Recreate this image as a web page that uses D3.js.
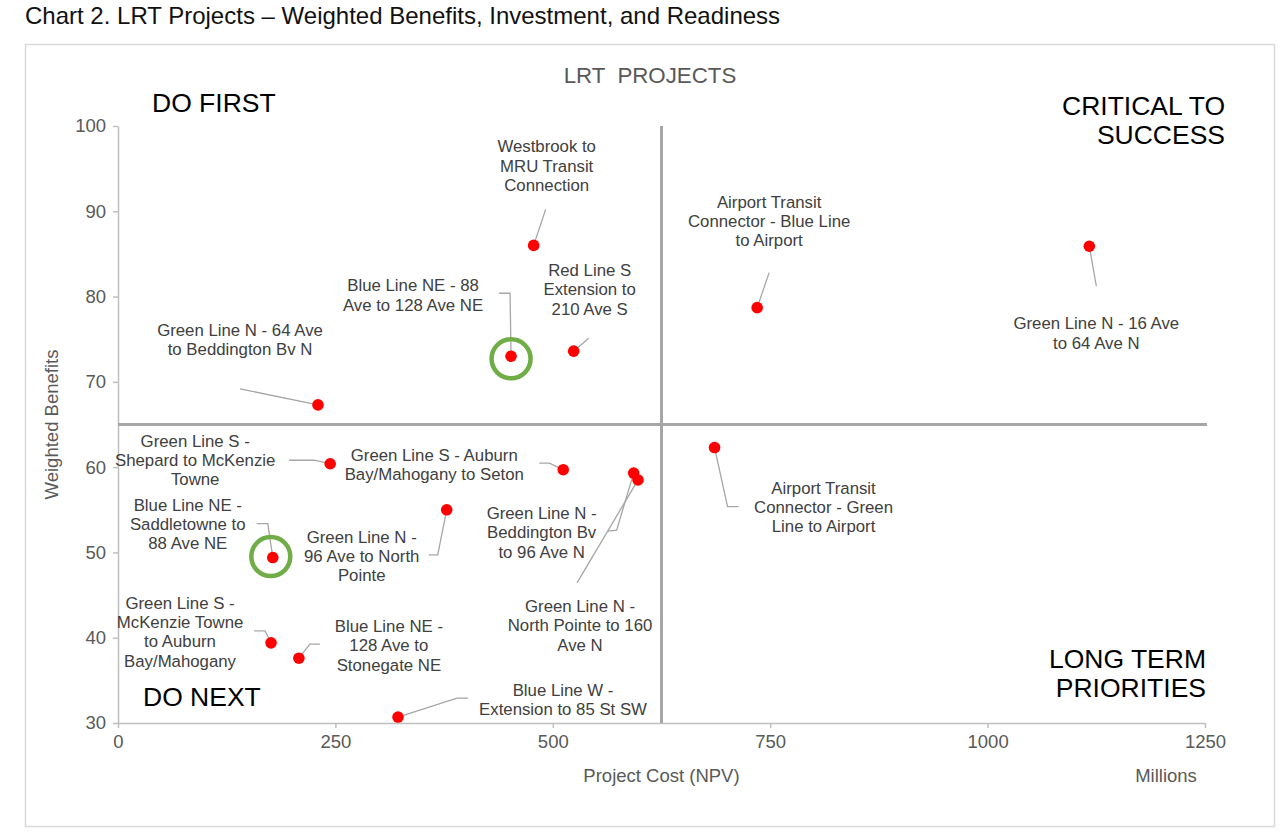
<!DOCTYPE html>
<html>
<head>
<meta charset="utf-8">
<script src="https://cdn.jsdelivr.net/npm/d3@7"></script>
<style>
  body { margin: 0; background: #fff; }
  svg { display: block; font-family: "Liberation Sans", Arial, sans-serif; }
</style>
</head>
<body>
<svg id="chart" width="1280" height="837"></svg>
<script>
// project names (label lines)
var projects = [
  ["Westbrook to", "MRU Transit", "Connection"],
  ["Blue Line NE - 88", "Ave to 128 Ave NE"],
  ["Red Line S", "Extension to", "210 Ave S"],
  ["Green Line N - 64 Ave", "to Beddington Bv N"],
  ["Airport Transit", "Connector - Blue Line", "to Airport"],
  ["Green Line N - 16 Ave", "to 64 Ave N"],
  ["Airport Transit", "Connector - Green", "Line to Airport"],
  ["Green Line S -", "Shepard to McKenzie", "Towne"],
  ["Green Line S - Auburn", "Bay/Mahogany to Seton"],
  ["Green Line N -", "Beddington Bv", "to 96 Ave N"],
  ["Green Line N -", "North Pointe to 160", "Ave N"],
  ["Green Line N -", "96 Ave to North", "Pointe"],
  ["Blue Line NE -", "Saddletowne to", "88 Ave NE"],
  ["Green Line S -", "McKenzie Towne", "to Auburn", "Bay/Mahogany"],
  ["Blue Line NE -", "128 Ave to", "Stonegate NE"],
  ["Blue Line W -", "Extension to 85 St SW"]
];
// project cost (NPV, millions)
var cost = [478, 452, 524, 230, 735, 1117, 686, 244, 512, 593, 598, 378, 178, 176, 208, 322];
// weighted benefits score
var benefit = [86, 73, 73.6, 67.3, 78.7, 85.9, 62.3, 60.4, 59.7, 59.3, 58.5, 55, 49.4, 39.4, 37.6, 30.7];
// ringed projects
var ringed = [false, true, false, false, false, false, false, false, false, false, false, false, true, false, false, false];

var xTicks = [0, 250, 500, 750, 1000, 1250];
var yTicks = [30, 40, 50, 60, 70, 80, 90, 100];
var costSplit = 625, benefitSplit = 65;

// label layout, pixel offsets from each dot: [label dx, label dy], leader points
var labelOffset = [
  [13, -99], [-98, -71], [16, -81], [-78, -75], [12, -106], [7, 77], [109, 40], [-135, -23],
  [-129, -15], [-92, 40], [-58, 126], [-85, 27], [-85, -53], [-91, -40], [90, -32], [165, -27]
];
var leaders = [
  [[12, -36], [0, 0]],
  [[-12, -63], [-1, -63], [0, 0]],
  [[15, -13], [0, 0]],
  [[-78, -16], [0, 0]],
  [[12, -35], [0, 0]],
  [[7, 40], [0, 0]],
  [[24, 59], [13, 59], [0, 0]],
  [[-41, -3.5], [-16, -3.5], [0, 0]],
  [[-24, -6.5], [-14, -6.5], [0, 0]],
  [[-26, 58], [-17, 57], [0, 0]],
  [[-61, 103], [0, 0]],
  [[-18, 45], [-9, 45], [0, 0]],
  [[-16, -34], [-5, -34], [0, 0]],
  [[-17, -12], [-6, -12], [0, 0]],
  [[21, -14], [11, -14], [0, 0]],
  [[70, -19], [59, -19], [0, 0]]
];
// ring centre offsets from the ringed dots
var ringOffset = [[0, 2.5], [-2, -1]];

var svg = d3.select("#chart");
var plotLeft = 118, plotRight = 1205, plotTop = 126, plotBottom = 723;

var x = d3.scaleLinear().domain([0, 1250]).range([plotLeft, plotRight]);
var y = d3.scaleLinear().domain([30, 100]).range([plotBottom, plotTop]);

svg.append("text")
   .attr("x", 25).attr("y", 24)
   .attr("font-size", 24).attr("fill", "#111")
   .text("Chart 2. LRT Projects \u2013 Weighted Benefits, Investment, and Readiness");

svg.append("rect")
   .attr("x", 25.5).attr("y", 44.5)
   .attr("width", 1249).attr("height", 782)
   .attr("fill", "none").attr("stroke", "#D9D9D9").attr("stroke-width", 1.5);

svg.append("text")
   .attr("x", 650).attr("y", 83)
   .attr("text-anchor", "middle")
   .attr("font-size", 22.3).attr("fill", "#595959")
   .style("white-space", "pre")
   .text("LRT  PROJECTS");

// axes
var xAxis = svg.append("g")
   .attr("transform", "translate(0," + plotBottom + ")")
   .call(d3.axisBottom(x).tickValues(xTicks).tickFormat(d3.format("d"))
     .tickSize(5).tickPadding(7).tickSizeOuter(0));
var yAxis = svg.append("g")
   .attr("transform", "translate(" + plotLeft + ",0)")
   .call(d3.axisLeft(y).tickValues(yTicks).tickFormat(d3.format("d"))
     .tickSize(5).tickPadding(7).tickSizeOuter(0));
[xAxis, yAxis].forEach(function(a){
  a.select(".domain").attr("stroke", "#BFBFBF").attr("stroke-width", 1.5);
  a.selectAll(".tick line").attr("stroke", "#BFBFBF").attr("stroke-width", 1.5);
  a.selectAll(".tick text").attr("fill", "#595959").attr("font-size", 18.5)
   .attr("font-family", "'Liberation Sans', Arial, sans-serif");
});

// quadrant dividers
svg.append("line")
   .attr("x1", x(costSplit)).attr("x2", x(costSplit))
   .attr("y1", y(100)).attr("y2", y(30))
   .attr("stroke", "#A6A6A6").attr("stroke-width", 3);
svg.append("line")
   .attr("x1", x(0)).attr("x2", x(1250) + 2)
   .attr("y1", y(benefitSplit)).attr("y2", y(benefitSplit))
   .attr("stroke", "#A6A6A6").attr("stroke-width", 3);

// axis titles
svg.append("text")
   .attr("transform", "translate(58," + y(65) + ") rotate(-90)")
   .attr("text-anchor", "middle")
   .attr("font-size", 18.5).attr("fill", "#595959")
   .text("Weighted Benefits");
svg.append("text")
   .attr("x", x(625)).attr("y", 782)
   .attr("text-anchor", "middle")
   .attr("font-size", 18.5).attr("fill", "#595959")
   .text("Project Cost (NPV)");
svg.append("text")
   .attr("x", 1166).attr("y", 782)
   .attr("text-anchor", "middle")
   .attr("font-size", 18.5).attr("fill", "#595959")
   .text("Millions");

// quadrant names
var quadrants = [
  {lines: ["DO FIRST"], x: 152, y: 112, anchor: "start"},
  {lines: ["CRITICAL TO", "SUCCESS"], x: 1225, y: 115, anchor: "end"},
  {lines: ["LONG TERM", "PRIORITIES"], x: 1206, y: 668, anchor: "end"},
  {lines: ["DO NEXT"], x: 143, y: 706, anchor: "start"}
];
quadrants.forEach(function(q){
  var t = svg.append("text")
     .attr("x", q.x).attr("y", q.y)
     .attr("text-anchor", q.anchor)
     .attr("font-size", 26.5).attr("fill", "#000");
  q.lines.forEach(function(l, i){
    t.append("tspan").attr("x", q.x).attr("dy", i === 0 ? 0 : 29).text(l);
  });
});

// leader lines
var line = d3.line();
projects.forEach(function(p, i){
  var px = x(cost[i]), py = y(benefit[i]);
  svg.append("path")
     .attr("d", line(leaders[i].map(function(o){ return [px + o[0], py + o[1]]; })))
     .attr("fill", "none").attr("stroke", "#A6A6A6").attr("stroke-width", 1.3);
});

// points
svg.selectAll("circle.pt")
   .data(cost)
   .enter().append("circle")
   .attr("class", "pt")
   .attr("cx", function(d){ return x(d); })
   .attr("cy", function(d, i){ return y(benefit[i]); })
   .attr("r", 5.8)
   .attr("fill", "#FF0000");

// highlight rings
var ringIdx = d3.range(cost.length).filter(function(i){ return ringed[i]; });
svg.selectAll("circle.ring")
   .data(ringIdx)
   .enter().append("circle")
   .attr("class", "ring")
   .attr("cx", function(i, k){ return x(cost[i]) + ringOffset[k][0]; })
   .attr("cy", function(i, k){ return y(benefit[i]) + ringOffset[k][1]; })
   .attr("r", 19.5)
   .attr("fill", "none").attr("stroke", "#70AD47").attr("stroke-width", 4.5);

// point labels
projects.forEach(function(p, i){
  var lx = x(cost[i]) + labelOffset[i][0];
  var ly = y(benefit[i]) + labelOffset[i][1] + 6;
  var t = svg.append("text")
     .attr("x", lx).attr("y", ly)
     .attr("text-anchor", "middle")
     .attr("font-size", 16.8).attr("fill", "#404040");
  p.forEach(function(l, j){
    t.append("tspan").attr("x", lx).attr("dy", j === 0 ? 0 : 19.3).text(l);
  });
});
</script>
</body>
</html>
